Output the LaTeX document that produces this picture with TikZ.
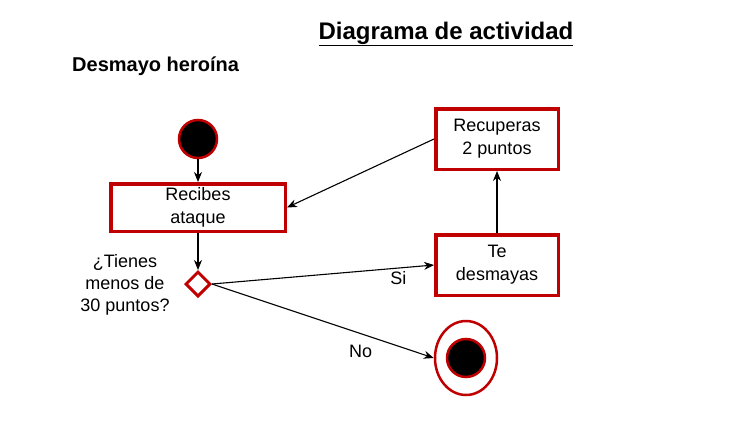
\documentclass[tikz,border=0pt]{standalone}
\usepackage{fontspec}
\setmainfont{Liberation Sans}
\usetikzlibrary{arrows.meta,shapes.geometric}
\definecolor{umlred}{HTML}{C00000}
\begin{document}
\begin{tikzpicture}[x=1pt,y=-1pt,
  actbox/.style={draw=umlred,line width=3.5pt,fill=white,inner sep=0pt,align=center,
    font=\fontsize{18}{23}\selectfont},
  conn/.style={-{Stealth[length=10pt,width=8pt]},line width=1.1pt,black},
  lbl/.style={font=\fontsize{18}{22}\selectfont,inner sep=0pt}]
\useasboundingbox (0,0) rectangle (741,420);
\node[font=\fontsize{24}{28}\selectfont\bfseries] (title) at (446,34) {\underline{Diagrama de actividad}};
\node[font=\fontsize{20}{24}\selectfont\bfseries,anchor=west,inner sep=0pt] (sub) at (72,66) {Desmayo heroína};
\node[circle,draw=umlred,line width=2.5pt,fill=black,minimum size=38pt,inner sep=0pt] (start) at (198,139) {};
\node[actbox,minimum width=174.5pt,minimum height=47.5pt] (recibes) at (198,207.5) {Recibes\\ataque};
\node[diamond,draw=umlred,line width=3pt,fill=white,minimum width=25pt,minimum height=25pt,inner sep=0pt] (dec) at (198,284) {};
\node[lbl,align=center] (q) at (125,285) {¿Tienes\\menos de\\30 puntos?};
\node[actbox,minimum width=122.5pt,minimum height=60.5pt] (te) at (497,265) {Te\\desmayas};
\node[actbox,minimum width=122.5pt,minimum height=60.5pt] (rec) at (497,139) {Recuperas\\2 puntos};
\node[ellipse,draw=umlred,line width=2.5pt,fill=white,minimum width=62pt,minimum height=74pt,inner sep=0pt] (end) at (466,358) {};
\node[circle,draw=umlred,line width=2.5pt,fill=black,minimum size=38pt,inner sep=0pt] (endin) at (466,358) {};
\draw[conn] (start) -- (recibes);
\draw[conn] (recibes) -- (dec);
\draw[conn] (dec.east) -- node[lbl,pos=0.84,below=3pt] {Si} (te.west);
\draw[conn] (dec.east) -- node[lbl,pos=0.67,below=11pt] {No} (end.west);
\draw[conn] (te) -- (rec);
\draw[conn] (rec.west) -- (recibes.east);
\end{tikzpicture}
\end{document}
